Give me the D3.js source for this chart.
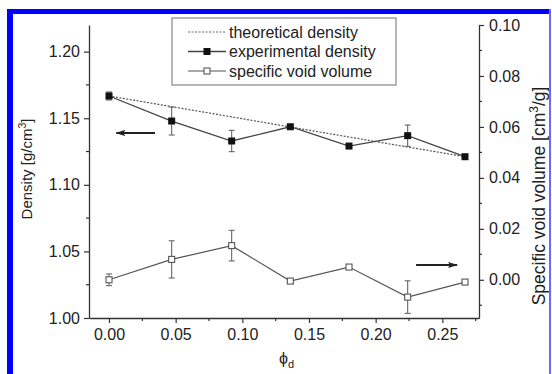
<!DOCTYPE html>
<html><head><meta charset="utf-8">
<script src="https://cdn.jsdelivr.net/npm/d3@7"></script>
<style>body{margin:0;background:#fff}svg{display:block}text{font-family:"Liberation Sans",Arial,sans-serif;fill:#222}</style>
</head><body><svg id="c" width="552" height="374"></svg>
<script>
const phi = [0.000, 0.047, 0.092, 0.136, 0.180, 0.224, 0.267];
const theoreticalDensity = [1.1667, 1.1587, 1.1510, 1.1434, 1.1359, 1.1284, 1.1211];
const experimentalDensity = [1.1667, 1.1479, 1.1329, 1.1436, 1.1291, 1.1369, 1.1211];
const experimentalError = [0.003, 0.0105, 0.008, 0.001, 0.001, 0.008, 0.001];
const voidVolume = [0.0000, 0.0080, 0.0134, -0.0005, 0.0050, -0.0068, -0.0009];
const voidError = [0.0023, 0.0073, 0.006, 0.0006, 0.0006, 0.0064, 0.0006];
const xTicks = [0.00, 0.05, 0.10, 0.15, 0.20, 0.25];
const yLeftTicks = [1.00, 1.05, 1.10, 1.15, 1.20];
const yRightTicks = [0.00, 0.02, 0.04, 0.06, 0.08, 0.10];
const legendLabels = ["theoretical density", "experimental density", "specific void volume"];

const svg = d3.select("#c");
svg.append("rect").attr("width",552).attr("height",374).attr("fill","#fff");
const L=89, R=479, T=25, B=318;
const x = d3.scaleLinear().domain([-0.015, 0.2775]).range([L, R]);
const yL = d3.scaleLinear().domain([1.00, 1.22]).range([B, T]);
const yR = d3.scaleLinear().domain([-0.015, 0.10]).range([B, T]);
const axisCol = "#333";

function styleAxis(g){
  g.select(".domain").attr("stroke",axisCol).attr("stroke-width",1.3);
  g.selectAll(".tick line").attr("stroke",axisCol).attr("stroke-width",1.2);
  g.selectAll(".tick text").attr("font-size",16).attr("fill","#222").style("font-family","Liberation Sans, Arial, sans-serif");
}
const xMinor = d3.range(-0.0, 0.28, 0.025).filter(v => Math.abs(v/0.05 - Math.round(v/0.05))>0.1);
const yLMinor = d3.range(1.025, 1.22, 0.05);
const yRMinor = [-0.01, 0.01, 0.03, 0.05, 0.07, 0.09];

const gx = svg.append("g").attr("transform",`translate(0,${B})`)
  .call(d3.axisBottom(x).tickValues(xTicks).tickFormat(d3.format(".2f")).tickSize(5).tickSizeOuter(0).tickPadding(6));
styleAxis(gx);
gx.selectAll(".minor").data(xMinor).enter().append("line")
  .attr("x1",d=>x(d)).attr("x2",d=>x(d)).attr("y1",0).attr("y2",3).attr("stroke",axisCol).attr("stroke-width",1.2);

const gl = svg.append("g").attr("transform",`translate(${L},0)`)
  .call(d3.axisLeft(yL).tickValues(yLeftTicks).tickFormat(d3.format(".2f")).tickSize(5).tickSizeOuter(0).tickPadding(4));
styleAxis(gl);
gl.selectAll(".minor").data(yLMinor).enter().append("line")
  .attr("y1",d=>yL(d)).attr("y2",d=>yL(d)).attr("x1",0).attr("x2",-3).attr("stroke",axisCol).attr("stroke-width",1.2);

const gr = svg.append("g").attr("transform",`translate(${R},0)`)
  .call(d3.axisRight(yR).tickValues(yRightTicks).tickFormat(d3.format(".2f")).tickSize(5).tickSizeOuter(0).tickPadding(5));
styleAxis(gr);
gr.selectAll(".minor").data(yRMinor).enter().append("line")
  .attr("y1",d=>yR(d)).attr("y2",d=>yR(d)).attr("x1",0).attr("x2",3).attr("stroke",axisCol).attr("stroke-width",1.2);

const lineL = d3.line().x((d,i)=>x(phi[i])).y(d=>yL(d));
svg.append("path").datum(theoreticalDensity).attr("d",lineL).attr("fill","none")
  .attr("stroke","#555").attr("stroke-width",1.2).attr("stroke-dasharray","2,1.5");

svg.append("path").datum(experimentalDensity).attr("d",lineL).attr("fill","none")
  .attr("stroke","#444").attr("stroke-width",1.3);
const eb = svg.append("g");
phi.forEach((p,i)=>{
  const cx=x(p), y1=yL(experimentalDensity[i]-experimentalError[i]), y2=yL(experimentalDensity[i]+experimentalError[i]);
  eb.append("line").attr("x1",cx).attr("x2",cx).attr("y1",y1).attr("y2",y2).attr("stroke","#666").attr("stroke-width",1.1);
  eb.append("line").attr("x1",cx-3).attr("x2",cx+3).attr("y1",y1).attr("y2",y1).attr("stroke","#666").attr("stroke-width",1.1);
  eb.append("line").attr("x1",cx-3).attr("x2",cx+3).attr("y1",y2).attr("y2",y2).attr("stroke","#666").attr("stroke-width",1.1);
});
svg.append("g").selectAll("rect").data(experimentalDensity).enter().append("rect")
  .attr("x",(d,i)=>x(phi[i])-3.5).attr("y",d=>yL(d)-3.5).attr("width",7).attr("height",7).attr("fill","#111");

const lineR = d3.line().x((d,i)=>x(phi[i])).y(d=>yR(d));
svg.append("path").datum(voidVolume).attr("d",lineR).attr("fill","none")
  .attr("stroke","#555").attr("stroke-width",1.2);
const eb2 = svg.append("g");
phi.forEach((p,i)=>{
  const cx=x(p), y1=yR(voidVolume[i]-voidError[i]), y2=yR(voidVolume[i]+voidError[i]);
  eb2.append("line").attr("x1",cx).attr("x2",cx).attr("y1",y1).attr("y2",y2).attr("stroke","#666").attr("stroke-width",1.1);
  eb2.append("line").attr("x1",cx-3).attr("x2",cx+3).attr("y1",y1).attr("y2",y1).attr("stroke","#666").attr("stroke-width",1.1);
  eb2.append("line").attr("x1",cx-3).attr("x2",cx+3).attr("y1",y2).attr("y2",y2).attr("stroke","#666").attr("stroke-width",1.1);
});
svg.append("g").selectAll("rect").data(voidVolume).enter().append("rect")
  .attr("x",(d,i)=>x(phi[i])-3).attr("y",d=>yR(d)-3).attr("width",6).attr("height",6)
  .attr("fill","#fff").attr("stroke","#555").attr("stroke-width",1.1);

// arrows
const defs = svg.append("defs");
defs.append("marker").attr("id","ah").attr("viewBox","0 0 10 6").attr("refX",9).attr("refY",3)
  .attr("markerUnits","userSpaceOnUse").attr("markerWidth",10).attr("markerHeight",6).attr("orient","auto")
  .append("path").attr("d","M0,0 L10,3 L0,6 L2,3 z").attr("fill","#222");
svg.append("line").attr("x1",x(0.0345)).attr("x2",x(0.0055)).attr("y1",yL(1.1389)).attr("y2",yL(1.1389))
  .attr("stroke","#222").attr("stroke-width",2).attr("marker-end","url(#ah)");
svg.append("line").attr("x1",x(0.2303)).attr("x2",x(0.2610)).attr("y1",yR(0.0058)).attr("y2",yR(0.0058))
  .attr("stroke","#222").attr("stroke-width",2).attr("marker-end","url(#ah)");

// legend
const lg = svg.append("g");
lg.append("rect").attr("x",172).attr("y",18).attr("width",224).attr("height",67)
  .attr("fill","#fff").attr("stroke","#888").attr("stroke-width",1.2);
const ly = [32, 51.5, 71];
lg.append("line").attr("x1",188).attr("x2",226).attr("y1",ly[0]).attr("y2",ly[0]).attr("stroke","#666").attr("stroke-width",1.2).attr("stroke-dasharray","2,1.5");
lg.append("line").attr("x1",188).attr("x2",226).attr("y1",ly[1]).attr("y2",ly[1]).attr("stroke","#444").attr("stroke-width",1.3);
lg.append("rect").attr("x",203.5).attr("y",ly[1]-3.5).attr("width",7).attr("height",7).attr("fill","#111");
lg.append("line").attr("x1",188).attr("x2",226).attr("y1",ly[2]).attr("y2",ly[2]).attr("stroke","#555").attr("stroke-width",1.2);
lg.append("rect").attr("x",204).attr("y",ly[2]-3).attr("width",6).attr("height",6).attr("fill","#fff").attr("stroke","#555").attr("stroke-width",1.1);
legendLabels.forEach((t,i)=>{
  lg.append("text").attr("x",229).attr("y",ly[i]).attr("dy","0.35em").attr("font-size",16).text(t);
});

// axis titles
const lt = svg.append("text").attr("transform","translate(32,169) rotate(-90)").attr("text-anchor","middle").attr("font-size",15);
lt.append("tspan").text("Density [g/cm");
lt.append("tspan").attr("font-size",10.5).attr("dy",-6).text("3");
lt.append("tspan").attr("dy",6).text("]");
const rt = svg.append("text").attr("transform","translate(545,196) rotate(-90)").attr("text-anchor","middle").attr("font-size",17.5);
rt.append("tspan").text("Specific void volume [cm");
rt.append("tspan").attr("font-size",12).attr("dy",-7).text("3");
rt.append("tspan").attr("dy",7).text("/g]");
const xt = svg.append("text").attr("x",279).attr("y",364).attr("font-size",16);
xt.append("tspan").text("\u03d5");
xt.append("tspan").attr("font-size",11).attr("dy",4).text("d");

// blue frame
svg.append("line").attr("x1",10).attr("x2",10).attr("y1",9).attr("y2",374).attr("stroke","#0000ff").attr("stroke-width",6);
svg.append("line").attr("x1",7).attr("x2",551).attr("y1",11.5).attr("y2",11.5).attr("stroke","#0000ff").attr("stroke-width",5);
svg.append("line").attr("x1",550).attr("x2",550).attr("y1",9).attr("y2",374).attr("stroke","#6a6aff").attr("stroke-width",2);
</script></body></html>
